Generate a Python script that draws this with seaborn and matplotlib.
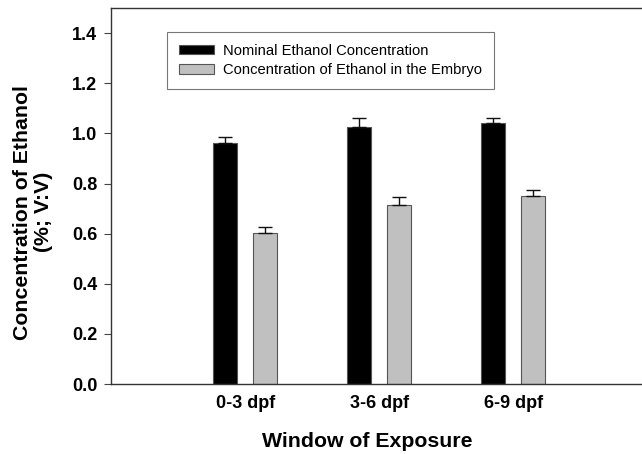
import matplotlib
matplotlib.use("Agg")
import matplotlib.pyplot as plt
import seaborn as sns
import pandas as pd
import numpy as np

windows = ["0-3 dpf", "3-6 dpf", "6-9 dpf"]
series = ["Nominal Ethanol Concentration", "Concentration of Ethanol in the Embryo"]
nominal = [0.962, 1.027, 1.040]
nominal_err = [0.024, 0.033, 0.021]
embryo = [0.601, 0.716, 0.752]
embryo_err = [0.024, 0.032, 0.023]

df = pd.DataFrame({
    "window": windows * 2,
    "series": [series[0]] * 3 + [series[1]] * 3,
    "value": nominal + embryo,
    "err": nominal_err + embryo_err,
})

sns.set_style("ticks")
plt.rcParams["font.family"] = ["Liberation Sans", "DejaVu Sans"]
plt.rcParams["text.color"] = "black"
plt.rcParams["axes.labelcolor"] = "black"
plt.rcParams["xtick.color"] = "black"
plt.rcParams["ytick.color"] = "black"

fig = plt.figure(figsize=(6.42, 4.54), dpi=100)
ax = fig.add_axes([0.173, 0.154, 0.827, 0.828])

palette = {series[0]: "#000000", series[1]: "#c0c0c0"}
sns.barplot(data=df, x="window", y="value", hue="series", order=windows,
            hue_order=series, palette=palette, width=0.6, gap=0.4,
            errorbar=None, edgecolor="#555555", linewidth=0.8, ax=ax,
            saturation=1)

# error bars (upper only)
for cont, s in zip(ax.containers, series):
    sub = df[df["series"] == s].set_index("window").loc[windows]
    xs = [p.get_x() + p.get_width() / 2 for p in cont.patches]
    ax.errorbar(xs, sub["value"].values,
                yerr=[np.zeros(len(xs)), sub["err"].values],
                fmt="none", ecolor="#111111", elinewidth=1.0, capsize=5,
                capthick=1.0, zorder=3)

ax.set_ylim(0, 1.5)
ax.set_xlim(-1.0, 2.96)
ax.set_yticks(np.arange(0, 1.41, 0.2))
ax.set_yticklabels([f"{v:.1f}" for v in np.arange(0, 1.41, 0.2)],
                   fontsize=13, fontweight="bold")
ax.set_xticklabels(windows, fontsize=13, fontweight="bold")
ax.tick_params(axis="x", length=0, pad=8)
ax.tick_params(axis="y", length=5, width=0.8, direction="out", pad=5, color="#444444")
ax.set_xlabel("Window of Exposure", fontsize=15.3, fontweight="bold")
ax.set_ylabel("Concentration of Ethanol\n(%; V:V)", fontsize=15.3,
              fontweight="bold", linespacing=1.15)
ax.xaxis.set_label_coords(0.482, -0.128)
ax.yaxis.set_label_coords(-0.109, 0.457)

for side in ["left", "bottom", "top"]:
    ax.spines[side].set_visible(True)
    ax.spines[side].set_linewidth(1.0)
    ax.spines[side].set_color("#333333")
ax.spines["right"].set_visible(False)

leg = ax.legend(loc="upper left", bbox_to_anchor=(0.105, 0.936), fontsize=10.6,
                frameon=True, fancybox=False, edgecolor="#555555",
                handlelength=2.4, handleheight=0.6, handletextpad=0.6,
                borderpad=0.8, borderaxespad=0, labelspacing=0.35, title=None)
leg.get_frame().set_linewidth(0.8)

fig.savefig("out.png", dpi=100)
